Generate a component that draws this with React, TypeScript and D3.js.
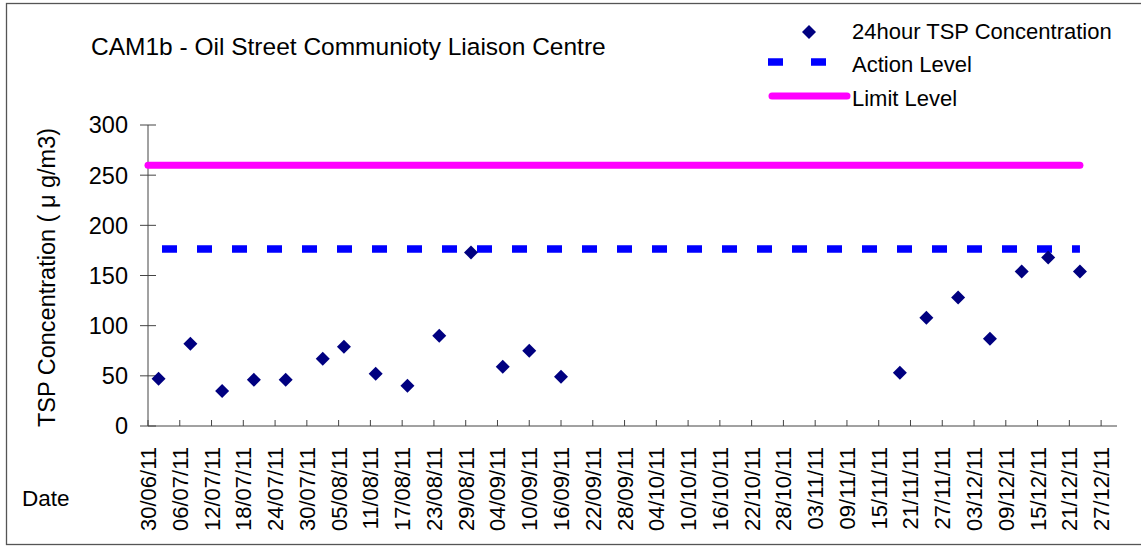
import React from "react";
import * as d3 from "d3";

const WIDTH = 1141;
const HEIGHT = 546;
const FONT = "'Liberation Sans', Arial, sans-serif";

// sample dates and 24hour TSP values (ug/m3)
const sampleDates = [
  "02/07/11", "08/07/11", "14/07/11", "20/07/11", "26/07/11", "02/08/11", "06/08/11",
  "12/08/11", "18/08/11", "24/08/11", "30/08/11", "05/09/11", "10/09/11", "16/09/11",
  "19/11/11", "24/11/11", "30/11/11", "06/12/11", "12/12/11", "17/12/11", "23/12/11",
];
const tspValues = [47, 82, 35, 46, 46, 67, 79, 52, 40, 90, 173, 59, 75, 49, 53, 108, 128, 87, 154, 168, 154];

const levelDates = ["30/06/11", "23/12/11"];
const actionLevel = 176.5;
const limitLevel = 260;

const xTickLabels = [
  "30/06/11", "06/07/11", "12/07/11", "18/07/11", "24/07/11", "30/07/11", "05/08/11", "11/08/11",
  "17/08/11", "23/08/11", "29/08/11", "04/09/11", "10/09/11", "16/09/11", "22/09/11", "28/09/11",
  "04/10/11", "10/10/11", "16/10/11", "22/10/11", "28/10/11", "03/11/11", "09/11/11", "15/11/11",
  "21/11/11", "27/11/11", "03/12/11", "09/12/11", "15/12/11", "21/12/11", "27/12/11",
];
const yTicks = [0, 50, 100, 150, 200, 250, 300];
const xDomain = ["30/06/11", "30/12/11"];

const parse = d3.utcParse("%d/%m/%y");

const PLOT = { left: 148, right: 1117, top: 125, bottom: 426 };

export default function App() {
  const x = d3
    .scaleUtc()
    .domain(xDomain.map((d) => parse(d) as Date))
    .range([PLOT.left, PLOT.right]);
  const y = d3.scaleLinear().domain([0, 300]).range([PLOT.bottom, PLOT.top]);

  const diamond = (cx: number, cy: number, r = 7) =>
    `M${cx},${cy - r}L${cx + r},${cy}L${cx},${cy + r}L${cx - r},${cy}Z`;

  const levelLine = (v: number) =>
    d3
      .line<string>()
      .x((d) => x(parse(d) as Date))
      .y(() => y(v))(levelDates) || "";

  return (
    <svg
      width={WIDTH}
      height={HEIGHT}
      style={{ position: "absolute", left: 0, top: 0, background: "#fff" }}
      fontFamily={FONT}
    >
      <rect x={6.5} y={3.5} width={WIDTH + 10} height={541} fill="#fff" stroke="#555" strokeWidth={1.3} />

      <text x={91} y={55} fontSize={24.5} fill="#000">
        CAM1b - Oil Street Communioty Liaison Centre
      </text>

      {/* y axis */}
      <line x1={PLOT.left} x2={PLOT.left} y1={y(300)} y2={y(0)} stroke="#444" />
      {yTicks.map((t) => (
        <g key={t}>
          <line x1={PLOT.left - 8} x2={PLOT.left + 8} y1={y(t)} y2={y(t)} stroke="#444" />
          <text x={128} y={y(t)} dy="0.36em" textAnchor="end" fontSize={23.5}>
            {t}
          </text>
        </g>
      ))}
      <text
        transform={`translate(55,${(y(0) + y(300)) / 2 + 2}) rotate(-90)`}
        textAnchor="middle"
        fontSize={23.5}
      >
        TSP Concentration ( μ g/m3)
      </text>

      {/* x axis */}
      <line x1={PLOT.left} x2={PLOT.right} y1={y(0)} y2={y(0)} stroke="#444" />
      {xTickLabels.map((lab) => {
        const px = x(parse(lab) as Date);
        return (
          <g key={lab}>
            <line x1={px} x2={px} y1={y(0) - 6} y2={y(0)} stroke="#444" />
            <text
              transform={`translate(${px + 8},447) rotate(-90)`}
              textAnchor="end"
              fontSize={22}
            >
              {lab}
            </text>
          </g>
        );
      })}
      <text x={22} y={506} fontSize={22.5}>
        Date
      </text>

      {/* level lines */}
      <path d={levelLine(limitLevel)} stroke="#ff00ff" strokeWidth={7} strokeLinecap="round" fill="none" />
      <path
        d={levelLine(actionLevel)}
        stroke="#0000ff"
        strokeWidth={7.5}
        strokeDasharray="15,20"
        strokeDashoffset={-14}
        fill="none"
      />

      {/* data */}
      {tspValues.map((v, i) => (
        <path key={i} d={diamond(x(parse(sampleDates[i]) as Date), y(v))} fill="#000080" />
      ))}

      {/* legend */}
      <path d={diamond(809, 32)} fill="#000080" />
      <text x={852} y={39} fontSize={22}>
        24hour TSP Concentration
      </text>
      <line x1={768} x2={826} y1={62} y2={62} stroke="#0000ff" strokeWidth={7.5} strokeDasharray="15,28" />
      <text x={852} y={72} fontSize={22}>
        Action Level
      </text>
      <line x1={772} x2={847} y1={96} y2={96} stroke="#ff00ff" strokeWidth={7} strokeLinecap="round" />
      <text x={852} y={106} fontSize={22}>
        Limit Level
      </text>
    </svg>
  );
}
